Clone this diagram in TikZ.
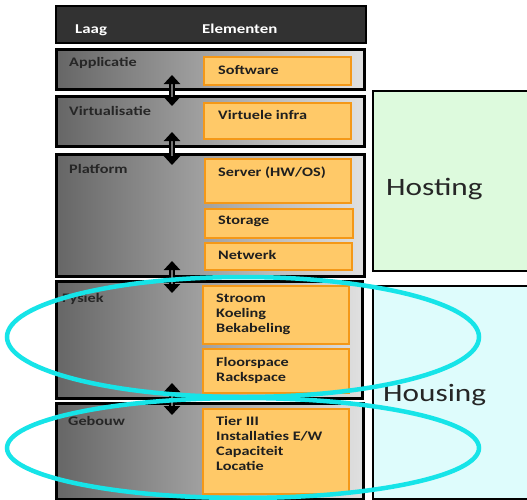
\documentclass[tikz,border=0pt]{standalone}
\usepackage{fontspec}
\setmainfont{Carlito}
\newfontfamily\calx[FakeStretch=1.25]{Carlito}
\usetikzlibrary{arrows.meta}
\definecolor{orfill}{RGB}{255,201,104}
\definecolor{ordraw}{RGB}{244,152,24}
\definecolor{hostfill}{RGB}{221,250,221}
\definecolor{housfill}{RGB}{222,252,252}
\definecolor{cyanring}{RGB}{22,228,232}
\definecolor{headfill}{RGB}{50,50,50}
\begin{document}
\begin{tikzpicture}[x=1pt,y=-1pt,
  layer/.style={draw=black, line width=2.5pt, inner sep=0pt, anchor=north west,
    left color=black!60, right color=black!12},
  elem/.style={draw=ordraw, fill=orfill, line width=2.2pt, inner sep=0pt, anchor=north west},
  lbl/.style={anchor=base west, inner sep=0pt, text=black!85,
    font=\calx\bfseries\fontsize{13}{15}\selectfont},
  etxt/.style={anchor=base west, inner sep=0pt, text=black!88, align=left,
    font=\calx\bfseries\fontsize{13}{15}\selectfont},
  htxt/.style={anchor=base west, inner sep=0pt, text=white,
    font=\calx\bfseries\fontsize{13.5}{15}\selectfont},
  bigtxt/.style={anchor=base west, inner sep=0pt, text=black!85,
    font=\calx\fontsize{25}{30}\selectfont},
  side/.style={draw=black, line width=1.8pt, inner sep=0pt, anchor=north west},
  dblarrow/.style={line width=2.6pt, double=black!55, double distance=1.4pt,
    {Triangle[width=16pt,length=9pt]}-{Triangle[width=16pt,length=9pt]}},
  ring/.style={draw=cyanring, line width=4.5pt}
]
\clip (0,0) rectangle (527,499);
\fill[white] (0,0) rectangle (527,499);

% right side blocks
\node[side, fill=hostfill, minimum width=170pt, minimum height=180pt] (host) at (372,90) {};
\node[side, fill=housfill, minimum width=170pt, minimum height=213pt] (hous) at (372,285) {};
\node[bigtxt] (hosttxt) at (386,195) {Hosting};
\node[bigtxt] (houstxt) at (383,401) {Housing};

% header
\node[draw=black, line width=1.5pt, fill=headfill, inner sep=0pt, anchor=north west,
  minimum width=310pt, minimum height=37pt] (head) at (55,5) {};
\node[htxt] (laag) at (75,33) {Laag};
\node[htxt] (elem) at (202,33) {Elementen};

% layers
\node[layer, minimum width=308pt, minimum height=40pt] (app) at (55,48) {};
\node[layer, minimum width=308pt, minimum height=50pt] (virt) at (55,95) {};
\node[layer, minimum width=308pt, minimum height=122pt] (plat) at (55,153) {};
\node[layer, minimum width=306pt, minimum height=117pt] (fys) at (55,280) {};
\node[layer, minimum width=307pt, minimum height=96pt] (geb) at (55,402) {};

\node[lbl] (appl) at (69,66) {Applicatie};
\node[lbl] (virtl) at (69,115) {Virtualisatie};
\node[lbl] (platl) at (69,173) {Platform};
\node[lbl] (fysl) at (62,302) {Fysiek};
\node[lbl] (gebl) at (68,425) {Gebouw};

% elements
\node[elem, minimum width=147pt, minimum height=28pt] (sw) at (203,56) {};
\node[elem, minimum width=147pt, minimum height=36pt] (vi) at (203,102) {};
\node[elem, minimum width=146pt, minimum height=44pt] (srv) at (204,158) {};
\node[elem, minimum width=148pt, minimum height=29pt] (sto) at (204,208) {};
\node[elem, minimum width=147pt, minimum height=27pt] (net) at (204,242) {};
\node[elem, minimum width=146pt, minimum height=58pt] (str) at (202,285) {};
\node[elem, minimum width=146pt, minimum height=44pt] (flo) at (202,348) {};
\node[elem, minimum width=146pt, minimum height=85pt] (tier) at (202,408) {};

\node[etxt] (swt) at (218,74) {Software};
\node[etxt] (vit) at (218,119) {Virtuele infra};
\node[etxt] (srvt) at (218,176) {Server (HW/OS)};
\node[etxt] (stot) at (218,224) {Storage};
\node[etxt] (nett) at (218,259) {Netwerk};
% multi-line: base anchor is the last line's baseline
\node[etxt] (strt) at (216,332) {Stroom\\Koeling\\Bekabeling};
\node[etxt] (flot) at (216,381) {Floorspace\\Rackspace};
\node[etxt] (tiert) at (216,470) {Tier III\\Installaties E/W\\Capaciteit\\Locatie};

% double arrows between layers
\coordinate (a1t) at (172,75);  \coordinate (a1b) at (172,106);
\coordinate (a2t) at (172,132); \coordinate (a2b) at (172,165);
\coordinate (a3t) at (172,261); \coordinate (a3b) at (172,293);
\coordinate (a4t) at (172,383); \coordinate (a4b) at (172,415);
\draw[dblarrow] (a1t) -- (a1b);
\draw[dblarrow] (a2t) -- (a2b);
\draw[dblarrow] (a3t) -- (a3b);
\draw[dblarrow] (a4t) -- (a4b);

% cyan rings
\draw[ring] (243,337) ellipse [x radius=236, y radius=60];
\draw[ring] (243,448) ellipse [x radius=236, y radius=50];
\end{tikzpicture}
\end{document}
